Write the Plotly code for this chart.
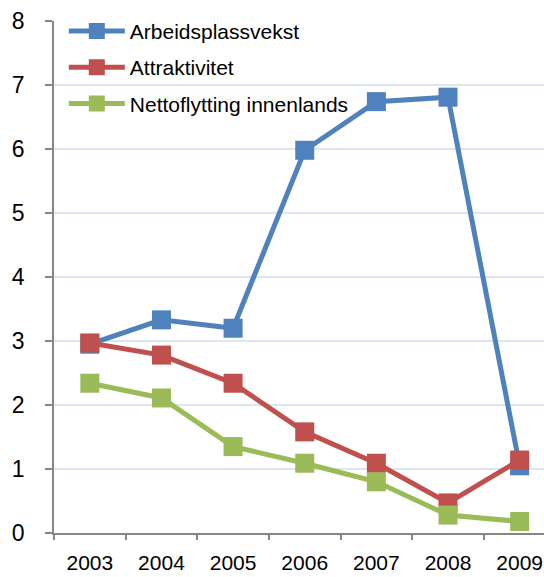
import plotly.graph_objects as go

years = ["2003", "2004", "2005", "2006", "2007", "2008", "2009"]
arbeidsplassvekst = [2.95, 3.33, 3.20, 5.98, 6.74, 6.81, 1.05]
attraktivitet = [2.97, 2.78, 2.34, 1.58, 1.09, 0.47, 1.14]
nettoflytting = [2.34, 2.11, 1.35, 1.09, 0.80, 0.28, 0.18]

series = [
    ("Arbeidsplassvekst", arbeidsplassvekst, "#4F81BD"),
    ("Attraktivitet", attraktivitet, "#C0504D"),
    ("Nettoflytting innenlands", nettoflytting, "#9BBB59"),
]

font_family = "Liberation Sans, Arial, sans-serif"

fig = go.Figure()
for name, values, color in series:
    fig.add_trace(go.Scatter(
        x=years, y=values, name=name, mode="lines+markers",
        legendgroup=name,
        line=dict(color=color, width=5),
        marker=dict(symbol="square", size=19, color=color),
    ))

fig.update_layout(
    width=544, height=577,
    margin=dict(l=54, r=0, t=21, b=44),
    paper_bgcolor="white", plot_bgcolor="white",
    font=dict(family=font_family, size=20, color="black"),
    showlegend=True,
    legend=dict(
        x=0.02, y=1.02, xanchor="left", yanchor="top",
        bgcolor="rgba(0,0,0,0)", font=dict(size=21),
        tracegroupgap=6, itemwidth=56,
    ),
    xaxis=dict(
        type="category", range=[-0.5, 6.34], automargin=False,
        showline=True, linecolor="#868686", linewidth=1.5,
        ticks="outside", ticklen=5, tickcolor="#868686", tickwidth=1.5,
        tickson="boundaries", showgrid=False, zeroline=False,
        tickfont=dict(size=21), ticklabelstandoff=10,
    ),
    yaxis=dict(
        range=[0, 8], dtick=1, automargin=False,
        showline=True, linecolor="#868686", linewidth=1.5,
        ticks="outside", ticklen=7, tickcolor="#868686", tickwidth=1.5,
        showgrid=True, gridcolor="#DCE6F2", gridwidth=1.5,
        zeroline=False, tickfont=dict(size=23), ticklabelstandoff=16,
    ),
)

fig.write_html("out.html")
